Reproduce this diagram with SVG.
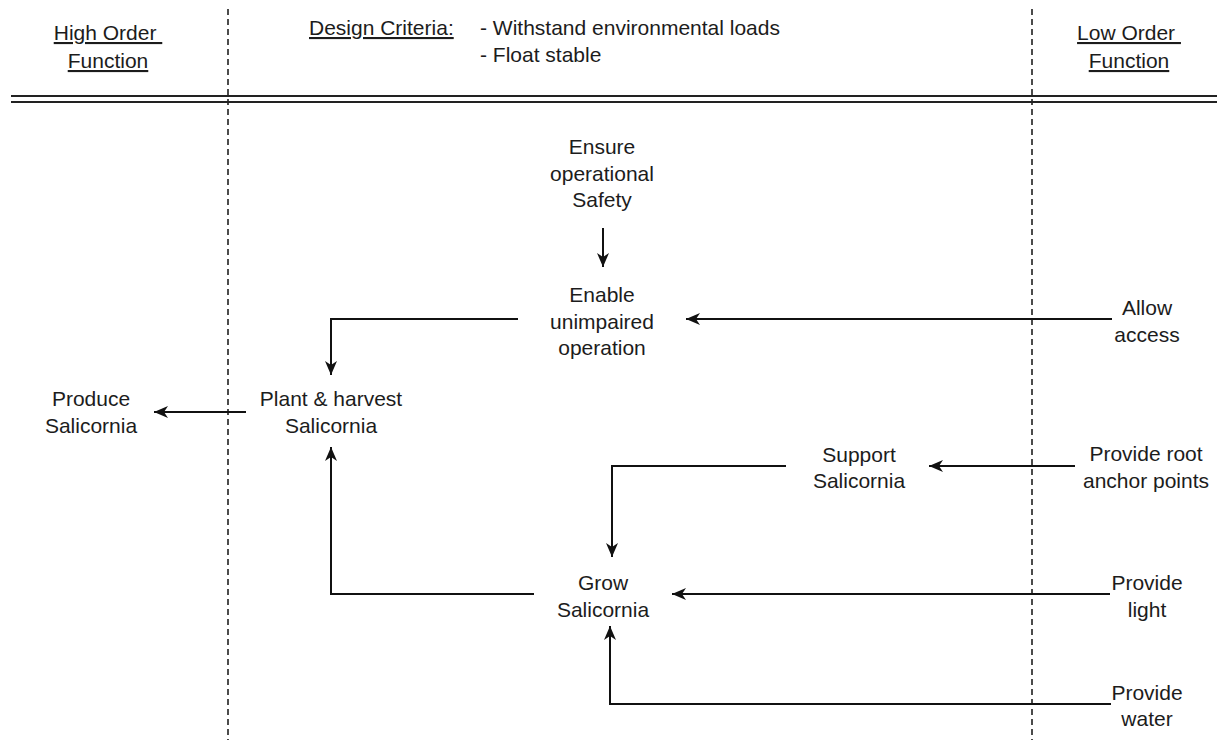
<svg xmlns="http://www.w3.org/2000/svg" width="1217" height="740" viewBox="0 0 1217 740">
<style>
  text { font-family: "Liberation Sans", Arial, sans-serif; font-size: 21px; fill: #1c1c1c; text-anchor: middle; }
  .u { text-decoration: underline; white-space: pre; }
  .l { text-anchor: start; }
  .conn { fill: none; stroke: #111; stroke-width: 2; }
  .dash { stroke: #111; stroke-width: 1.5; stroke-dasharray: 6 4; }
  .rule { stroke: #222; stroke-width: 2; }
</style>
<defs>
  <marker id="arr" markerUnits="userSpaceOnUse" viewBox="0 0 14 12" refX="14" refY="6" markerWidth="14" markerHeight="12" orient="auto">
    <path d="M0,0 L14,6 L0,12 L4,6 Z" fill="#111"/>
  </marker>
</defs>
<rect width="1217" height="740" fill="#fff"/>

<g id="frame">
  <line class="dash" x1="228" y1="9" x2="228" y2="740"/>
  <line class="dash" x1="1032" y1="9" x2="1032" y2="740"/>
  <line class="rule" x1="11" y1="96" x2="1217" y2="96"/>
  <line class="rule" x1="11" y1="102" x2="1217" y2="102"/>
</g>

<g id="header-high">
  <text class="u" x="108" y="40">High Order </text>
  <text class="u" x="108" y="68">Function</text>
</g>
<g id="header-criteria">
  <text class="u l" x="309" y="35">Design Criteria:</text>
  <text class="l" x="480" y="35">- Withstand environmental loads</text>
  <text class="l" x="480" y="62">- Float stable</text>
</g>
<g id="header-low">
  <text class="u" x="1129" y="40">Low Order </text>
  <text class="u" x="1129" y="68">Function</text>
</g>

<g id="connectors">
  <path class="conn" marker-end="url(#arr)" d="M603,228 L603,267"/>
  <path class="conn" marker-end="url(#arr)" d="M1112,319 L686,319"/>
  <path class="conn" marker-end="url(#arr)" d="M518,319 L331,319 L331,375"/>
  <path class="conn" marker-end="url(#arr)" d="M246,412 L154,412"/>
  <path class="conn" marker-end="url(#arr)" d="M1075,466 L929,466"/>
  <path class="conn" marker-end="url(#arr)" d="M786,466 L612,466 L612,557"/>
  <path class="conn" marker-end="url(#arr)" d="M1110,594 L672,594"/>
  <path class="conn" marker-end="url(#arr)" d="M1111,704 L610,704 L610,626"/>
  <path class="conn" marker-end="url(#arr)" d="M534,594 L331,594 L331,447"/>
</g>

<g id="ensure-safety">
  <text x="602" y="154">Ensure</text>
  <text x="602" y="180.5">operational</text>
  <text x="602" y="207">Safety</text>
</g>
<g id="enable-operation">
  <text x="602" y="302">Enable</text>
  <text x="602" y="328.5">unimpaired</text>
  <text x="602" y="355">operation</text>
</g>
<g id="allow-access">
  <text x="1147" y="315">Allow</text>
  <text x="1147" y="342">access</text>
</g>
<g id="plant-harvest">
  <text x="331" y="406">Plant &amp; harvest</text>
  <text x="331" y="433">Salicornia</text>
</g>
<g id="produce-salicornia">
  <text x="91" y="406">Produce</text>
  <text x="91" y="433">Salicornia</text>
</g>
<g id="support-salicornia">
  <text x="859" y="462">Support</text>
  <text x="859" y="488">Salicornia</text>
</g>
<g id="provide-root">
  <text x="1146" y="461">Provide root</text>
  <text x="1146" y="488">anchor points</text>
</g>
<g id="grow-salicornia">
  <text x="603" y="590">Grow</text>
  <text x="603" y="617">Salicornia</text>
</g>
<g id="provide-light">
  <text x="1147" y="590">Provide</text>
  <text x="1147" y="617">light</text>
</g>
<g id="provide-water">
  <text x="1147" y="700">Provide</text>
  <text x="1147" y="726">water</text>
</g>
</svg>
